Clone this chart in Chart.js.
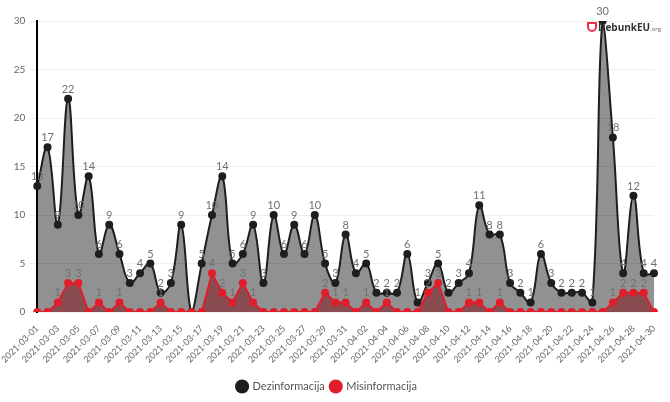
<!DOCTYPE html>
<html>
<head>
<meta charset="utf-8">
<script src="https://cdn.jsdelivr.net/npm/chart.js@4/dist/chart.umd.min.js"></script>
<style>
  html, body { margin: 0; padding: 0; background: #fff; }
  #wrap { position: relative; width: 670px; height: 402px; }
  #logo { position: absolute; left: 587px; top: 20px; font-family: 'Open Sans', sans-serif; font-weight: 700; font-size: 10px; color: #333; white-space: nowrap; }
  #logo .ic { display: inline-block; width: 6px; height: 6px; border: 2px solid #e8334a; border-radius: 0 0 5px 5px; vertical-align: -1px; margin-right: 1px; }
  #logo .org { font-size: 6px; font-weight: 400; color: #666; }
</style>
</head>
<body>
<div id="wrap">
  <canvas id="c" width="670" height="402"></canvas>
  <div id="logo"><span class="ic"></span>DebunkEU<span class="org">.org</span></div>
</div>
<script>
const startDate = new Date(Date.UTC(2021, 2, 1));
const categories = [];
for (let i = 0; i < 61; i++) {
  const d = new Date(startDate.getTime() + i * 86400000);
  categories.push(d.toISOString().slice(0, 10));
}
const dezinformacija = [13,17,9,22,10,14,6,9,6,3,4,5,2,3,9,0,5,10,14,5,6,9,3,10,6,9,6,10,5,3,8,4,5,2,2,2,6,1,3,5,2,3,4,11,8,8,3,2,1,6,3,2,2,2,1,30,18,4,12,4,4];
const misinformacija = [0,0,1,3,3,0,1,0,1,0,0,0,1,0,0,0,0,4,2,1,3,1,0,0,0,0,0,0,2,1,1,0,1,0,1,0,0,0,2,3,0,0,1,1,0,1,0,0,0,0,0,0,0,0,0,0,1,2,2,2,0];
const yTicks = [0,5,10,15,20,25,30];

const labelPlugin = {
  id: 'valueLabels',
  afterDatasetsDraw(chart) {
    const ctx = chart.ctx;
    ctx.save();
    ctx.font = '11px Lato, sans-serif';
    ctx.fillStyle = '#707070';
    ctx.textAlign = 'center';
    ctx.textBaseline = 'bottom';
    chart.data.datasets.forEach((ds, di) => {
      const meta = chart.getDatasetMeta(di);
      meta.data.forEach((pt, i) => {
        const v = ds.data[i];
        if (v > 0) ctx.fillText(String(v), pt.x, pt.y - 4);
      });
    });
    ctx.restore();
  }
};

new Chart(document.getElementById('c'), {
  type: 'line',
  data: {
    labels: categories,
    datasets: [
      {
        label: 'Dezinformacija',
        data: dezinformacija,
        borderColor: '#1e1e1e',
        backgroundColor: 'rgba(0,0,0,0.43)',
        pointBackgroundColor: '#1e1e1e',
        pointBorderColor: '#1e1e1e',
        borderWidth: 2,
        pointRadius: 3,
        tension: 0.4,
        fill: 'origin',
        order: 2
      },
      {
        label: 'Misinformacija',
        data: misinformacija,
        borderColor: '#e01e2b',
        backgroundColor: 'rgba(130,8,18,0.5)',
        pointBackgroundColor: '#e01e2b',
        pointBorderColor: '#e01e2b',
        borderWidth: 2,
        pointRadius: 3,
        tension: 0,
        fill: 'origin',
        order: 1
      }
    ]
  },
  options: {
    responsive: false,
    animation: false,
    layout: { padding: { left: 0, right: 16, top: 21, bottom: 0 } },
    plugins: {
      legend: {
        position: 'bottom',
        labels: {
          usePointStyle: true,
          pointStyle: 'circle',
          boxWidth: 10,
          boxHeight: 10,
          padding: 6,
          color: '#555',
          font: { family: 'Lato, sans-serif', size: 11 },
          generateLabels(chart) {
            return chart.data.datasets.map((ds, i) => ({
              text: ds.label,
              fillStyle: ds.borderColor,
              strokeStyle: ds.borderColor,
              lineWidth: 0,
              pointStyle: 'circle',
              datasetIndex: i,
              fontColor: '#555'
            }));
          }
        }
      },
      tooltip: { enabled: false }
    },
    scales: {
      x: {
        offset: false,
        grid: { display: false },
        border: { display: false },
        afterFit(scale) { scale.height += 7; },
        ticks: {
          autoSkip: false,
          maxRotation: 45,
          minRotation: 45,
          color: '#666',
          font: { family: 'Lato, sans-serif', size: 9 },
          callback(v, i) { return i % 2 === 0 ? categories[i] : ''; }
        }
      },
      y: {
        min: 0,
        max: 30,
        afterBuildTicks(axis) { axis.ticks = yTicks.map(v => ({ value: v })); },
        grid: { color: '#eeeeee' },
        border: { display: true, color: '#000', width: 2 },
        ticks: {
          color: '#666',
          padding: 4,
          font: { family: 'Lato, sans-serif', size: 10 }
        }
      }
    }
  },
  plugins: [labelPlugin]
});
</script>
</body>
</html>
